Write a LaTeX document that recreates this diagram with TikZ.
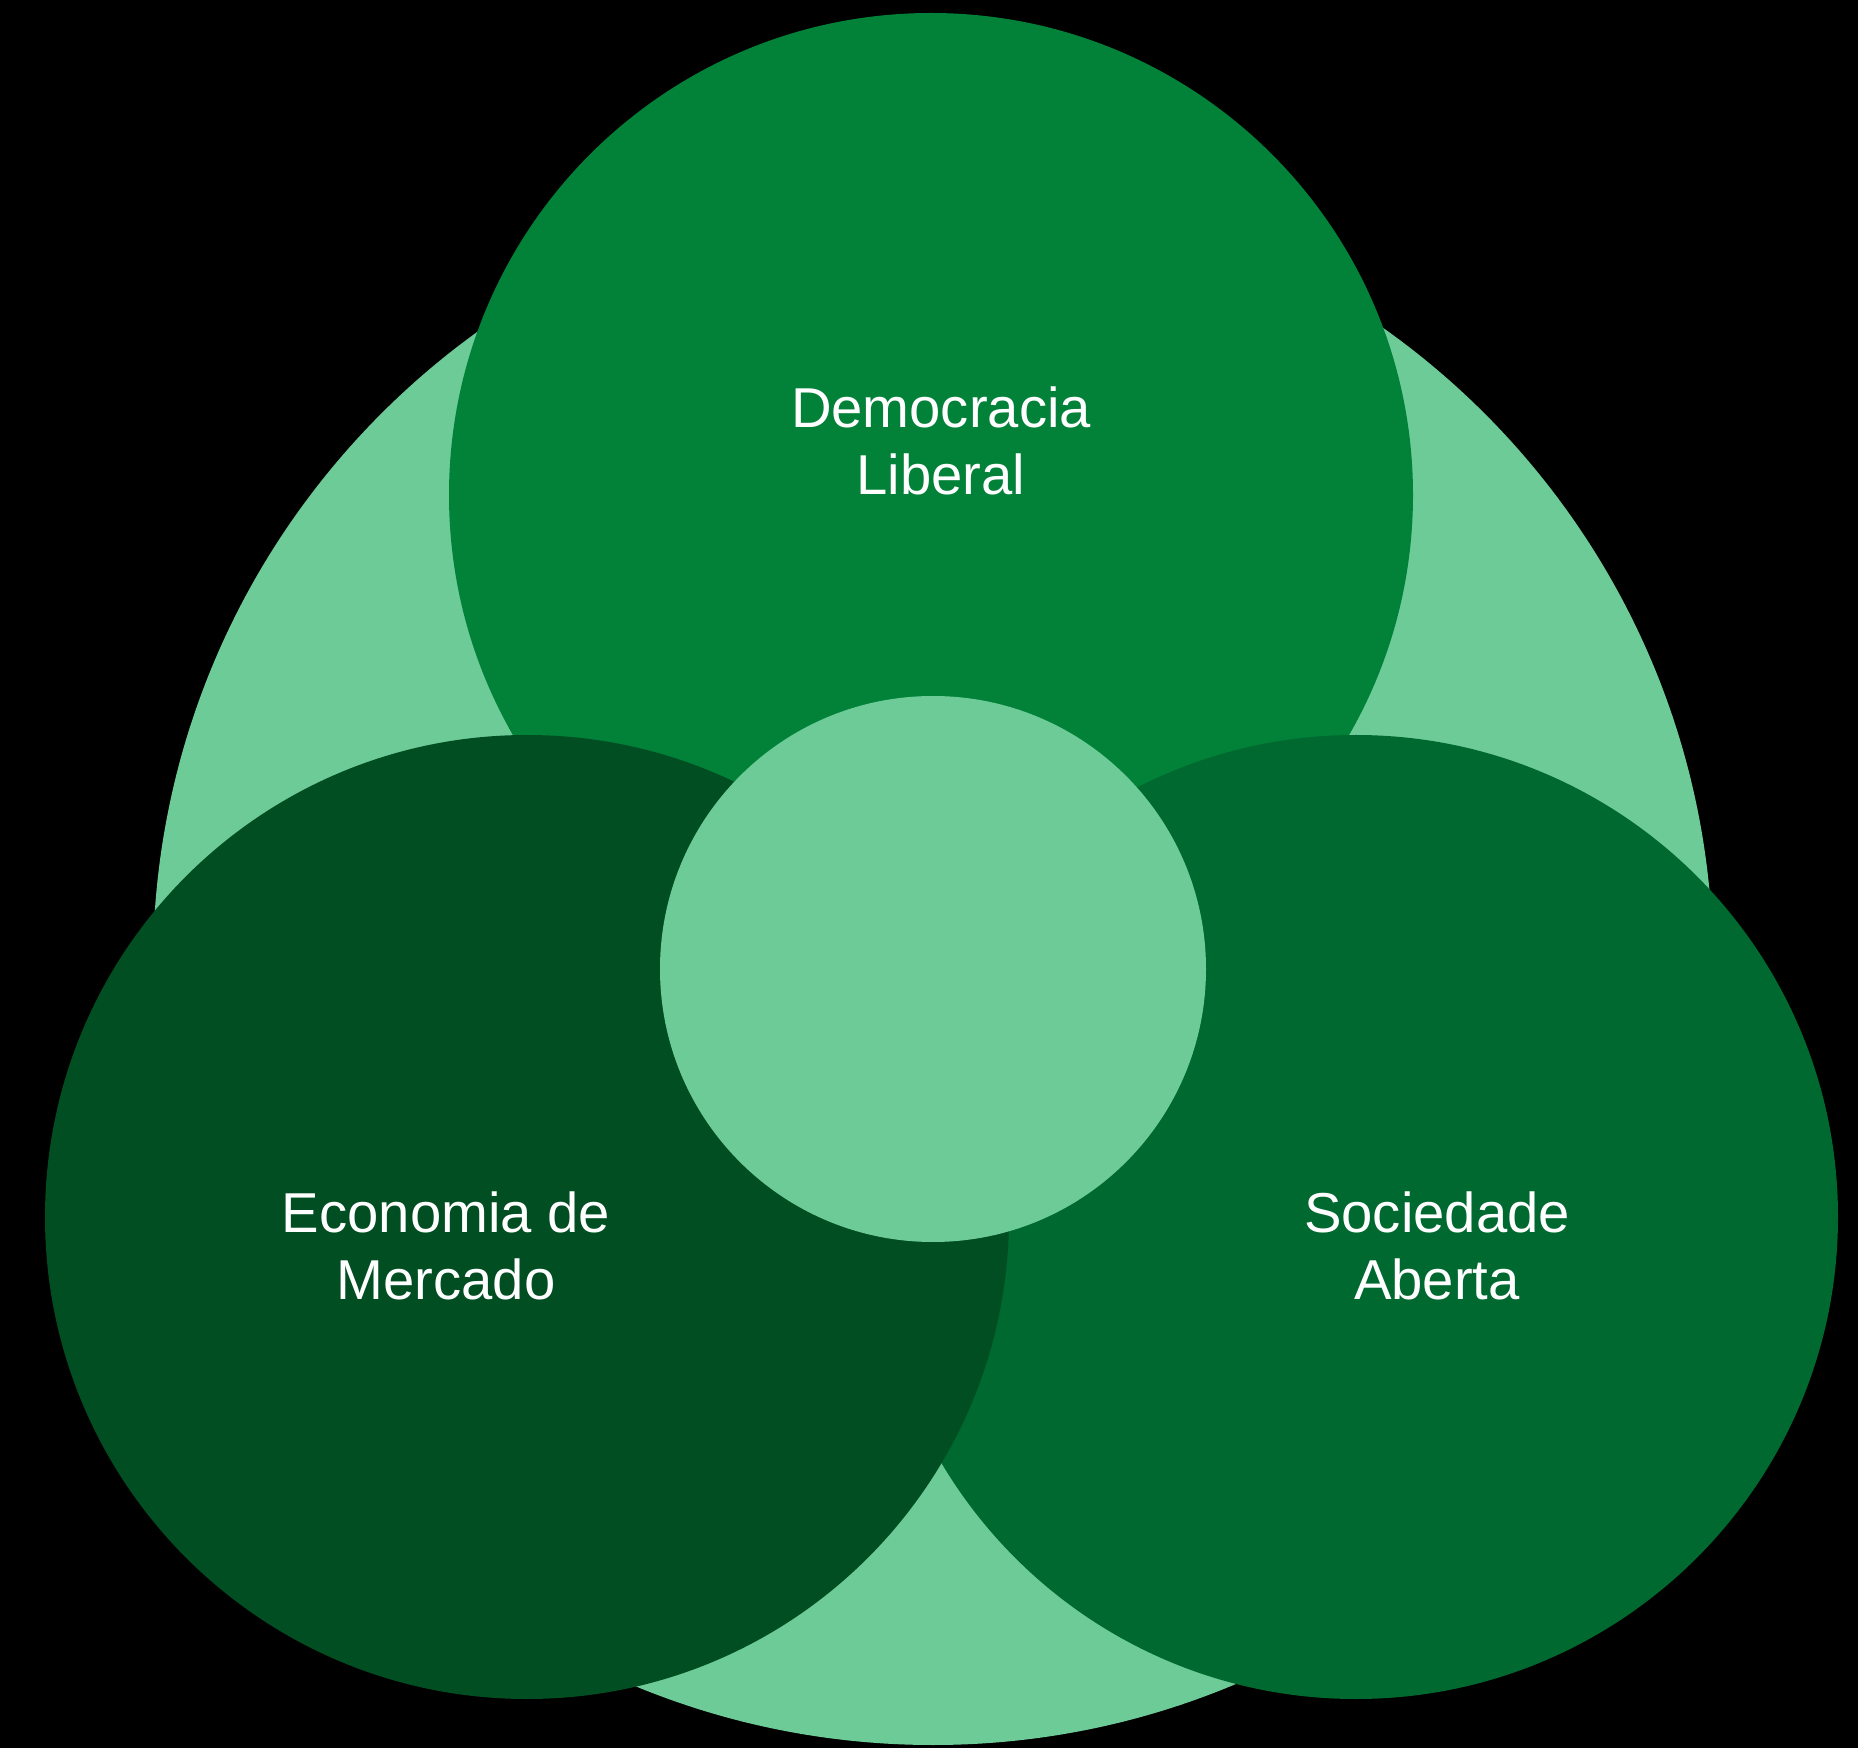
\documentclass[tikz,border=0pt]{standalone}
\usepackage{fontspec}
\setmainfont{Liberation Sans}
\definecolor{verdeclaro}{HTML}{6DCB97}
\definecolor{verdetopo}{HTML}{028139}
\definecolor{verdeesq}{HTML}{004E22}
\definecolor{verdedir}{HTML}{00692F}
\begin{document}
\begin{tikzpicture}[
  bola/.style={circle, inner sep=0pt, minimum size=9.64cm},
  rotulo/.style={text=white, align=center, font=\fontsize{16}{19.2}\selectfont}]
  \fill[black] (0,0) rectangle (18.58,17.48);

  \node[circle, inner sep=0pt, minimum size=15.6cm, fill=verdeclaro] (fundo) at (9.33,7.83) {};

  \node[bola, fill=verdetopo] (democ) at (9.31,12.53) {};
  \node[bola, fill=verdedir] (soc) at (13.56,5.31) {};
  \node[bola, fill=verdeesq] (econ) at (5.27,5.31) {};

  \node[circle, inner sep=0pt, minimum size=5.46cm, fill=verdeclaro] (meio) at (9.33,7.79) {};

  \node[rotulo] (tdemoc) at (9.41,13.07) {Democracia\\Liberal};
  \node[rotulo] (tecon) at (4.46,5.02) {Economia de\\Mercado};
  \node[rotulo] (tsoc) at (14.37,5.02) {Sociedade\\Aberta};
\end{tikzpicture}
\end{document}
